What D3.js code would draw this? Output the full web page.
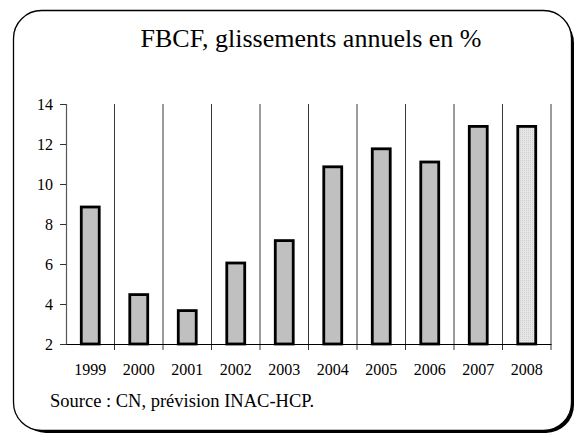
<!DOCTYPE html>
<html>
<head>
<meta charset="utf-8">
<script src="https://cdn.jsdelivr.net/npm/d3@7"></script>
<style>
  body { margin: 0; background: #fff; }
</style>
</head>
<body>
<div id="chart"></div>
<script>
var years = ["1999", "2000", "2001", "2002", "2003", "2004", "2005", "2006", "2007", "2008"];
var values = [8.85, 4.47, 3.67, 6.05, 7.17, 10.86, 11.76, 11.1, 12.88, 12.88];
var forecast = ["2008"];
var yTicks = [2, 4, 6, 8, 10, 12, 14];

var serif = "'Liberation Serif', 'DejaVu Serif', serif";

var svgWidth = 578;
var svgHeight = 437;

var margin = { top: 104, right: 27, bottom: 93, left: 66 };
var width = svgWidth - margin.left - margin.right;
var height = svgHeight - margin.top - margin.bottom;

var svg = d3.select("#chart")
  .append("svg")
  .attr("width", svgWidth)
  .attr("height", svgHeight);

// dotted fill for the forecast bar
var defs = svg.append("defs");
var pat = defs.append("pattern")
  .attr("id", "dots")
  .attr("width", 2)
  .attr("height", 2)
  .attr("patternUnits", "userSpaceOnUse");
pat.append("rect").attr("width", 2).attr("height", 2).attr("fill", "#e6e6e6");
pat.append("rect").attr("width", 1).attr("height", 1).attr("fill", "#cfcfcf");

// frame with shadow
svg.append("rect")
  .attr("x", 18).attr("y", 15)
  .attr("width", 556).attr("height", 418)
  .attr("rx", 28).attr("ry", 28)
  .attr("fill", "#000");
svg.append("rect")
  .attr("x", 13.5).attr("y", 10.5)
  .attr("width", 558).attr("height", 420)
  .attr("rx", 28).attr("ry", 28)
  .attr("fill", "#fff")
  .attr("stroke", "#000")
  .attr("stroke-width", 1.3);

svg.append("text")
  .attr("x", 311)
  .attr("y", 47)
  .attr("text-anchor", "middle")
  .style("font-family", serif)
  .style("font-size", "26px")
  .text("FBCF, glissements annuels en %");

var chartGroup = svg.append("g")
  .attr("transform", `translate(${margin.left}, ${margin.top})`);

var xScale = d3.scaleBand()
  .domain(years)
  .range([0, width])
  .padding(0);

var yScale = d3.scaleLinear()
  .domain([2, 14])
  .range([height, 0]);

// vertical grid lines at band boundaries
chartGroup.selectAll(".grid")
  .data(years)
  .enter()
  .append("line")
  .attr("x1", d => xScale(d) + xScale.bandwidth())
  .attr("x2", d => xScale(d) + xScale.bandwidth())
  .attr("y1", 0)
  .attr("y2", height + 6)
  .attr("stroke", "#222")
  .attr("stroke-width", 0.9);

// y axis
var leftAxis = d3.axisLeft(yScale)
  .tickValues(yTicks)
  .tickSize(6)
  .tickPadding(7);
var yAxis = chartGroup.append("g").call(leftAxis);
yAxis.attr("font-family", null).attr("font-size", null);
yAxis.select(".domain").attr("stroke", "#555").attr("stroke-width", 1.2);
yAxis.selectAll("line").attr("stroke", "#333");
yAxis.selectAll("text")
  .style("font-family", serif)
  .style("font-size", "16px");

// x axis
var bottomAxis = d3.axisBottom(xScale).tickSize(0).tickPadding(19.5);
var xAxis = chartGroup.append("g")
  .attr("transform", `translate(0, ${height})`)
  .call(bottomAxis);
xAxis.attr("font-family", null).attr("font-size", null);
xAxis.select(".domain").attr("stroke", "#000").attr("stroke-width", 1);
xAxis.selectAll("text")
  .style("font-family", serif)
  .style("font-size", "16px");

// bars
var barW = xScale.bandwidth() * 0.37;
chartGroup.selectAll(".bar")
  .data(years)
  .enter()
  .append("rect")
  .attr("x", d => xScale(d) + (xScale.bandwidth() - barW) / 2)
  .attr("y", (d, i) => yScale(values[i]))
  .attr("width", barW)
  .attr("height", (d, i) => height - yScale(values[i]))
  .attr("fill", d => forecast.indexOf(d) >= 0 ? "url(#dots)" : "#c0c0c0")
  .attr("stroke", "#000")
  .attr("stroke-width", 2.8);

svg.append("text")
  .attr("x", 50)
  .attr("y", 407)
  .style("font-family", serif)
  .style("font-size", "18.5px")
  .text("Source : CN, prévision INAC-HCP.");
</script>
</body>
</html>
